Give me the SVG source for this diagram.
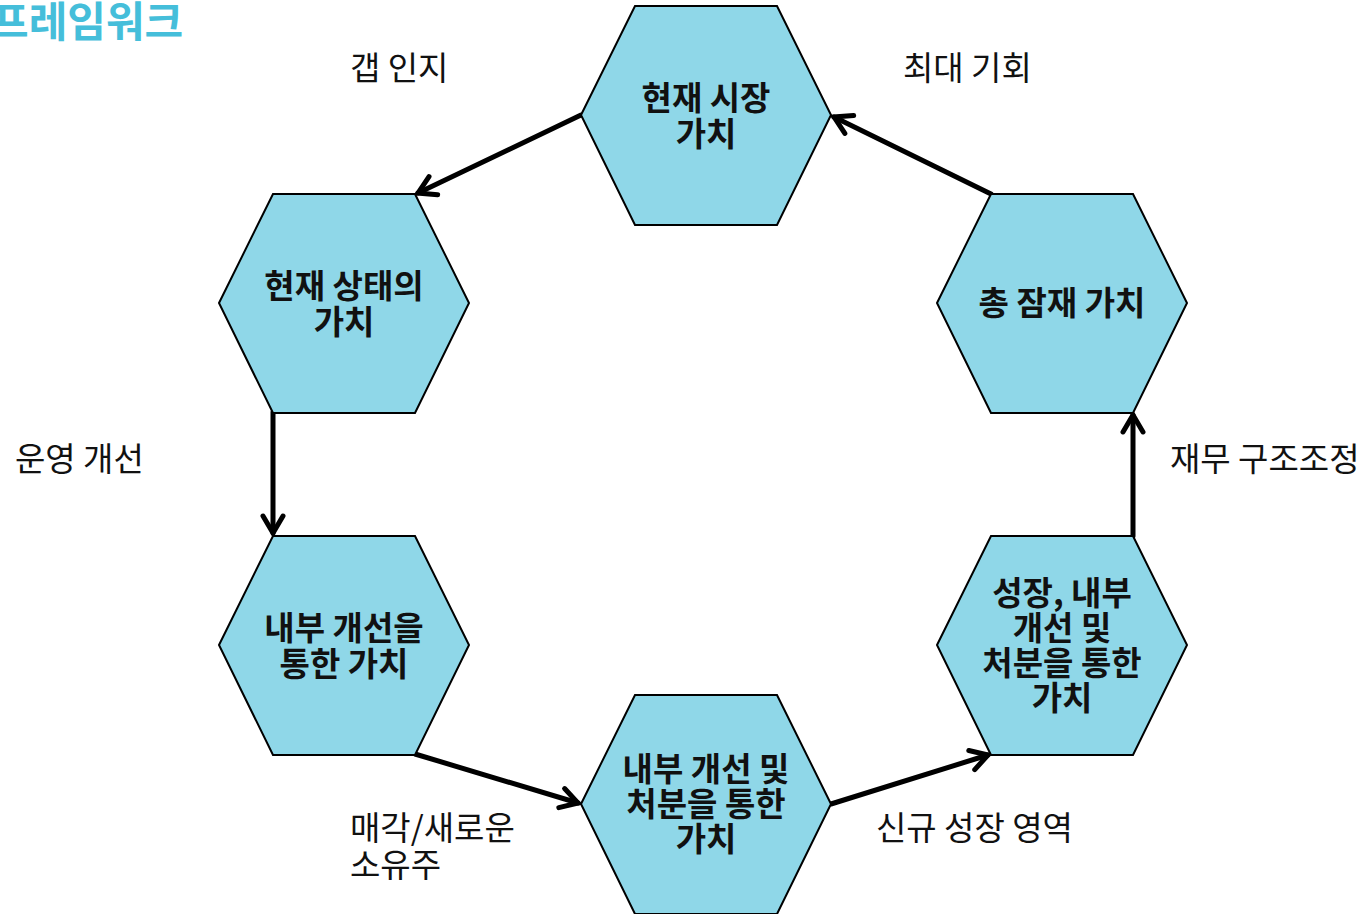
<svg xmlns="http://www.w3.org/2000/svg" width="1362" height="914" viewBox="0 0 1362 914">
  <style>
    .hex { fill: #8FD7E8; stroke: #000; stroke-width: 2; stroke-linejoin: miter; }
    .node-label { font-family: "Noto Sans CJK KR", "Noto Sans", sans-serif; font-size: 33px; font-weight: bold; fill: #111; text-anchor: middle; }
    .edge-label { font-family: "Noto Sans CJK KR", "Noto Sans", sans-serif; font-size: 33px; fill: #111; }
    .title { font-family: "Noto Sans CJK KR", "Noto Sans", sans-serif; font-size: 42px; font-weight: bold; fill: #45BEDA; }
    .conn { fill: none; stroke: #000; stroke-width: 5; stroke-linecap: round; marker-end: url(#chevron); }
  </style>
  <defs>
    <polygon id="hexshape" points="-125,0 -71,-109 71,-109 125,0 71,110 -71,110"/>
    <marker id="chevron" viewBox="0 0 26 26" refX="22" refY="13" markerWidth="26" markerHeight="26" markerUnits="userSpaceOnUse" orient="auto">
      <path d="M5,3 L22,13 L5,23" fill="none" stroke="#000" stroke-width="5" stroke-linecap="round" stroke-linejoin="miter"/>
    </marker>
  </defs>

  <rect width="1362" height="914" fill="#fff"/>

  <text class="title" x="-10" y="37">프레임워크</text>

  <!-- connectors -->
  <g id="connectors">
    <line class="conn" x1="581" y1="115" x2="418" y2="193"/>
    <line class="conn" x1="273" y1="412" x2="273" y2="533"/>
    <line class="conn" x1="415" y1="754" x2="578" y2="803"/>
    <line class="conn" x1="831" y1="804" x2="988" y2="755"/>
    <line class="conn" x1="1133" y1="536" x2="1133" y2="415"/>
    <line class="conn" x1="991" y1="194" x2="834" y2="117"/>
  </g>

  <!-- nodes -->
  <g id="node-market">
    <use href="#hexshape" class="hex" transform="translate(706,115)"/>
    <text class="node-label" x="706" y="110">현재 시장</text>
    <text class="node-label" x="706" y="146">가치</text>
  </g>
  <g id="node-current">
    <use href="#hexshape" class="hex" transform="translate(344,303)"/>
    <text class="node-label" x="344" y="298">현재 상태의</text>
    <text class="node-label" x="344" y="334">가치</text>
  </g>
  <g id="node-internal">
    <use href="#hexshape" class="hex" transform="translate(344,645)"/>
    <text class="node-label" x="344" y="640">내부 개선을</text>
    <text class="node-label" x="344" y="676">통한 가치</text>
  </g>
  <g id="node-disposal">
    <use href="#hexshape" class="hex" transform="translate(706,804)"/>
    <text class="node-label" x="706" y="781">내부 개선 및</text>
    <text class="node-label" x="706" y="816">처분을 통한</text>
    <text class="node-label" x="706" y="851">가치</text>
  </g>
  <g id="node-growth">
    <use href="#hexshape" class="hex" transform="translate(1062,645)"/>
    <text class="node-label" x="1062" y="605">성장, 내부</text>
    <text class="node-label" x="1062" y="640">개선 및</text>
    <text class="node-label" x="1062" y="675">처분을 통한</text>
    <text class="node-label" x="1062" y="710">가치</text>
  </g>
  <g id="node-potential">
    <use href="#hexshape" class="hex" transform="translate(1062,303)"/>
    <text class="node-label" x="1062" y="315">총 잠재 가치</text>
  </g>

  <!-- connector labels -->
  <g id="labels">
    <text class="edge-label" x="350" y="80">갭 인지</text>
    <text class="edge-label" x="903" y="80">최대 기회</text>
    <text class="edge-label" x="15" y="471">운영 개선</text>
    <text class="edge-label" x="1170" y="471">재무 구조조정</text>
    <text class="edge-label" x="350" y="840">매각/새로운</text>
    <text class="edge-label" x="350" y="877">소유주</text>
    <text class="edge-label" x="876" y="840">신규 성장 영역</text>
  </g>
</svg>
